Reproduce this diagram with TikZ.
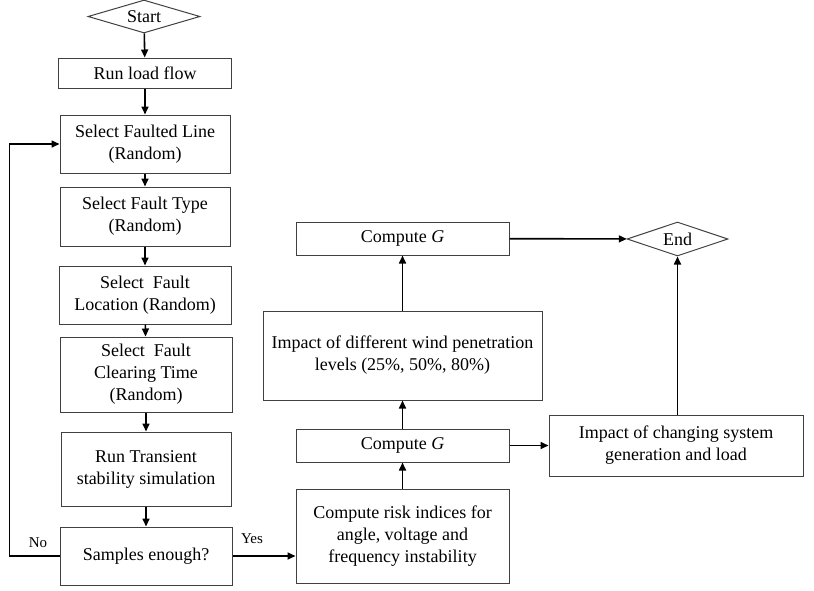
\documentclass[tikz,border=0pt]{standalone}
\usepackage{fontspec}
\setmainfont{Liberation Serif}
\usetikzlibrary{shapes.geometric,arrows.meta}
\begin{document}
\begin{tikzpicture}[x=1pt,y=-1pt,
  font=\fontsize{18}{22}\selectfont,
  box/.style={draw=black!75, line width=1pt, align=center, inner sep=0pt, rectangle},
  dia/.style={draw=black!75, line width=1pt, diamond, shape aspect=3.3, inner sep=0pt},
  arr/.style={-{Triangle[length=8pt,width=7pt]}, line width=1.6pt},
  lbl/.style={font=\fontsize{15}{18}\selectfont, inner sep=0pt}]
\useasboundingbox (0,0) rectangle (814,590);
\node[dia, minimum width=112pt, minimum height=33pt] (start) at (144,16.5) {Start};
\node[box, minimum width=173pt, minimum height=30pt] (load) at (145,73) {Run load flow};
\node[box, minimum width=170pt, minimum height=58pt] (line) at (145,144) {Select Faulted Line\\(Random)};
\node[box, minimum width=170pt, minimum height=59pt] (type) at (145,216.5) {Select Fault Type\\(Random)};
\node[box, minimum width=172pt, minimum height=58pt] (loc) at (145,295) {Select\ \ Fault\\Location (Random)};
\node[box, minimum width=172pt, minimum height=75pt] (clear) at (146,374.5) {Select\ \ Fault\\Clearing Time\\(Random)};
\node[box, minimum width=170pt, minimum height=74pt] (trans) at (146,469) {Run Transient\\stability simulation};
\node[box, minimum width=172pt, minimum height=58pt] (samples) at (146,556) {Samples enough?};
\node[box, minimum width=213pt, minimum height=94pt] (risk) at (402.5,536) {Compute risk indices for\\angle, voltage and\\frequency instability};
\node[box, minimum width=213pt, minimum height=33pt] (cg1) at (402.5,445.5) {Compute \textit{G}};
\node[box, minimum width=279pt, minimum height=89pt] (wind) at (402.5,355.5) {Impact of different wind penetration\\levels (25\%, 50\%, 80\%)};
\node[box, minimum width=213pt, minimum height=33pt] (cg2) at (402.5,238.5) {Compute \textit{G}};
\node[dia, minimum width=101pt, minimum height=34pt] (end) at (677.5,239) {End};
\node[box, minimum width=254pt, minimum height=61pt] (chg) at (676,445.5) {Impact of changing system\\generation and load};
\draw[arr] (start) -- (load);
\draw[arr] (load) -- (line);
\draw[arr] (line) -- (type);
\draw[arr] (type) -- (loc);
\draw[arr] (loc) -- (clear);
\draw[arr] (clear) -- (trans);
\draw[arr] (trans) -- (samples);
\draw[arr] (samples.west) -- ++(-50,0) coordinate (fb) |- (line.west);
\draw[arr] (samples.east) -- (risk.west |- samples.east);
\draw[arr] (risk) -- (cg1);
\draw[arr] (cg1) -- (wind);
\draw[arr] (wind) -- (cg2);
\draw[arr] (cg2) -- (end);
\draw[arr] (cg1) -- (chg);
\draw[arr] (chg.north -| end.south) -- (end.south);
\node[lbl] (no) at (38,543) {No};
\node[lbl] (yes) at (252,539) {Yes};
\end{tikzpicture}
\end{document}
